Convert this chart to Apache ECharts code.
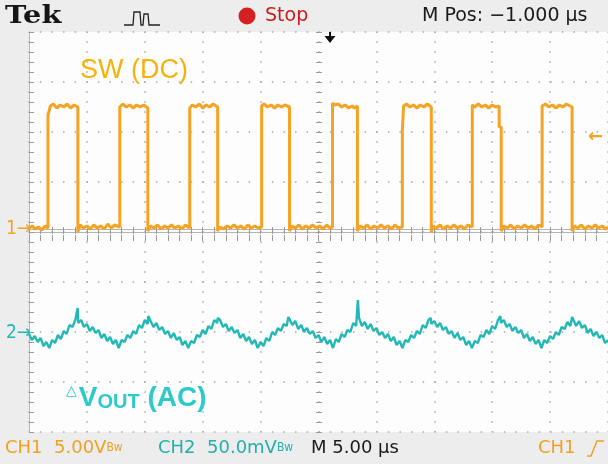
<!DOCTYPE html>
<html><head><meta charset="utf-8">
<script src="https://cdn.jsdelivr.net/npm/echarts@6/dist/echarts.min.js"></script>
<style>html,body{margin:0;padding:0;background:#ededed;}#c{width:608px;height:464px;}</style>
</head><body><div id="c"></div>
<script>
// Time axis: µs (5 µs/div, 10 div)
const timeMin = 0, timeMax = 50, timeDiv = 5;
// CH1 (SW, DC) volts: 5 V/div ; CH2 (ΔVout, AC) mV: 50 mV/div
const ch1Range = [-20.3, 19.7];
const ch2Range = [-99, 301];
const divRange = [-4, 4];

// CH1 switching node trace [µs, V]
const swTrace = [
[0,0.1],[0.3,0.3],[0.5,0.0],[0.8,0.2],[1.1,-0.1],[1.4,0.3],[1.64,0.1],
[1.64,11.4],[1.8,11.6],[1.85,12.3],[2.1,12.5],[2.4,12.1],[2.7,12.4],[3.0,12.2],[3.3,12.5],[3.6,12.1],[3.9,12.4],[4.22,12.2],[4.22,-0.3],
[4.4,0.4],[4.7,0.1],[5.0,0.3],[5.3,0.0],[5.6,0.4],[5.9,0.1],[6.2,0.3],[6.5,0.0],[6.8,0.5],[7.1,0.1],[7.4,0.4],[7.84,0.2],
[7.84,12.2],[8.1,12.5],[8.4,12.2],[8.7,12.4],[9.0,12.1],[9.3,12.4],[9.6,12.2],[9.9,12.4],[10.26,12.1],[10.26,-0.2],
[10.5,0.3],[10.8,0.1],[11.1,0.4],[11.4,0.0],[11.7,0.3],[12.0,0.1],[12.3,0.4],[12.6,0.1],[12.9,0.3],[13.2,0.0],[13.5,0.4],[13.88,0.1],
[13.88,12.1],[14.1,12.4],[14.4,12.2],[14.7,12.5],[15.0,12.1],[15.3,12.4],[15.6,12.2],[15.9,12.5],[16.29,12.2],[16.29,-0.2],
[16.5,0.2],[16.8,0.0],[17.1,0.3],[17.4,0.1],[17.7,0.4],[18.0,0.1],[18.3,0.3],[18.6,0.0],[18.9,0.4],[19.2,0.1],[19.5,0.3],[19.8,0.1],[20.09,0.2],
[20.09,12.3],[20.3,12.5],[20.6,12.2],[20.9,12.4],[21.2,12.1],[21.5,12.4],[21.8,12.2],[22.1,12.4],[22.5,12.2],[22.5,-0.2],
[22.7,0.3],[23.0,0.1],[23.3,0.4],[23.6,0.0],[23.9,0.3],[24.2,0.1],[24.5,0.4],[24.8,0.1],[25.1,0.3],[25.4,0.0],[25.7,0.4],[26.0,0.1],[26.21,0.2],
[26.21,12.6],[26.4,12.4],[26.7,12.5],[27.0,12.2],[27.3,12.4],[27.6,12.1],[27.9,12.3],[28.1,12.1],[28.36,12.3],[28.36,-0.2],
[28.6,0.3],[28.9,0.1],[29.2,0.4],[29.5,0.0],[29.8,0.3],[30.1,0.1],[30.4,0.4],[30.7,0.1],[31.0,0.3],[31.3,0.0],[31.6,0.4],[31.9,0.1],[32.24,0.2],
[32.24,9.9],[32.35,9.9],[32.35,12.3],[32.6,12.5],[32.9,12.2],[33.2,12.4],[33.5,12.1],[33.8,12.4],[34.1,12.2],[34.4,12.5],[34.74,12.2],[34.74,-0.3],
[34.9,0.3],[35.2,0.1],[35.5,0.4],[35.8,0.0],[36.1,0.3],[36.4,0.1],[36.7,0.4],[37.0,0.1],[37.3,0.3],[37.6,0.0],[37.9,0.4],[38.28,0.2],
[38.28,12.4],[38.5,12.2],[38.8,12.5],[39.1,12.2],[39.4,12.4],[39.7,12.1],[40.0,12.4],[40.3,12.2],[40.6,12.3],[40.6,10.2],[40.78,10.2],[40.78,-0.2],
[41.0,0.3],[41.3,0.1],[41.6,0.4],[41.9,0.0],[42.2,0.3],[42.5,0.1],[42.8,0.4],[43.1,0.1],[43.4,0.3],[43.7,0.0],[44.0,0.4],[44.31,0.2],
[44.31,12.3],[44.6,12.5],[44.9,12.2],[45.2,12.4],[45.5,12.1],[45.8,12.4],[46.1,12.2],[46.4,12.5],[46.9,12.2],[46.9,-0.2],
[47.1,0.3],[47.4,0.1],[47.7,0.4],[48.0,0.0],[48.3,0.3],[48.6,0.1],[48.9,0.4],[49.2,0.1],[49.5,0.3],[49.8,0.0],[50,0.2]
];

// CH2 ripple, mV, sampled every 0.25 µs from 0 µs (noisy trace)
const rippleStep = 0.25;
const rippleMv = [
-1,-7,-3,-9,-5,-13,-9,-15,-7,-10,-2,-6,2,-1,8,6,13,10,13,6,9,2,6,0,3,-5,-1,-8,-4,-11,-7,-15,
-7,-9,-2,-5,2,-1,8,5,13,9,12,6,10,3,6,-1,2,-5,0,-7,-4,-12,-8,-15,
-8,-10,-2,-4,3,-1,7,4,13,10,13,6,9,2,6,0,3,-5,-1,-8,-4,-11,-7,-15,
-9,-13,-5,-8,1,-2,5,2,9,7,15,8,12,4,8,1,5,-1,2,-5,-2,-9,-4,-11,-7,
-15,-6,-9,-1,-4,3,1,10,7,15,7,11,4,9,2,5,-2,1,-5,-1,-8,-4,-12,-8,
-15,-7,-9,-2,-5,2,-1,8,5,13,9,12,6,10,3,6,-1,2,-5,0,-7,-4,-12,-8,
-15,-8,-10,-2,-4,3,-1,7,4,13,10,13,6,9,2,6,0,3,-5,-1,-8,-4,-11,-7,
-15,-7,-10,-3,-6,1,-2,6,4,11,7,14,7,12,5,8,0,4,-3,1,-5,-2,-10,-7
];
// narrow switching spikes on the ripple [µs, mV]
const rippleSpikes = [[4.2,25],[10.3,17],[16.3,15],[22.4,16],[28.4,33],[34.7,15],[40.7,17],[46.9,16]];

const orange = '#f5a323';
const cyan = '#22b8b6';

const rippleData = rippleMv.map((v, i) => [i * rippleStep, v]).concat(rippleSpikes)
  .sort((a, b) => a[0] - b[0]);

const chart = echarts.init(document.getElementById('c'), null, {renderer: 'canvas'});
const grid = {left: 29, top: 32, width: 580, height: 400};
const tickStyle = {color: '#9a9a9a', width: 1};
const uiFont = '"DejaVu Sans", sans-serif';
const condensed = '"DejaVu Sans Condensed", "Liberation Sans Narrow", sans-serif';
chart.setOption({
  animation: false,
  backgroundColor: '#ededed',
  grid: Object.assign({show: true, backgroundColor: '#fdfdfd', borderWidth: 0}, grid),
  xAxis: [
    {type: 'value', min: timeMin, max: timeMax, interval: timeDiv, position: 'bottom',
     axisLine: {show: true, lineStyle: {color: '#b5b5b5'}},
     axisTick: {show: true, inside: true, length: 5, lineStyle: tickStyle},
     minorTick: {show: true, splitNumber: 5, length: 5, lineStyle: tickStyle},
     axisLabel: {show: false},
     splitLine: {show: true, lineStyle: {color: '#a8a8a8', width: 1.5, type: [1.5, 8.5], dashOffset: 0.75}}},
    {type: 'value', min: timeMin, max: timeMax, interval: timeDiv, position: 'top',
     axisLine: {show: true, lineStyle: {color: '#b5b5b5'}},
     axisTick: {show: true, inside: true, length: 5, lineStyle: tickStyle},
     minorTick: {show: true, splitNumber: 5, length: 5, lineStyle: tickStyle},
     axisLabel: {show: false}, splitLine: {show: false}},
    {type: 'value', min: timeMin, max: timeMax, interval: timeDiv, position: 'bottom', offset: -203,
     axisLine: {show: false}, axisTick: {show: true, inside: false, length: 6, lineStyle: tickStyle},
     minorTick: {show: true, splitNumber: 5, length: 6, lineStyle: tickStyle},
     axisLabel: {show: false}, splitLine: {show: false}}
  ],
  yAxis: [
    {type: 'value', min: divRange[0], max: divRange[1], interval: 1, position: 'left',
     axisLine: {show: true, lineStyle: {color: '#b5b5b5'}},
     axisTick: {show: true, inside: true, length: 5, lineStyle: tickStyle},
     minorTick: {show: true, splitNumber: 5, length: 5, lineStyle: tickStyle},
     axisLabel: {show: false},
     splitLine: {show: true, lineStyle: {color: '#a8a8a8', width: 1.5, type: [1.5, 10.1], dashOffset: 0.75}}},
    {type: 'value', min: ch1Range[0], max: ch1Range[1], show: false, position: 'right'},
    {type: 'value', min: ch2Range[0], max: ch2Range[1], show: false, position: 'right'},
    {type: 'value', min: divRange[0], max: divRange[1], interval: 1, position: 'left', offset: -293,
     axisLine: {show: false}, axisTick: {show: true, inside: false, length: 6, lineStyle: tickStyle},
     minorTick: {show: true, splitNumber: 5, length: 6, lineStyle: tickStyle},
     axisLabel: {show: false}, splitLine: {show: false}}
  ],
  series: [
    {name: 'SW (DC)', type: 'line', xAxisIndex: 0, yAxisIndex: 1, data: swTrace, showSymbol: false,
     lineStyle: {color: orange, width: 3}, z: 5},
    {name: 'ΔVOUT (AC)', type: 'line', xAxisIndex: 0, yAxisIndex: 2, data: rippleData, showSymbol: false,
     lineStyle: {color: cyan, width: 2.4, join: 'bevel'}, z: 5}
  ],
  graphic: [
    {type: 'text', x: 5, y: 16, scaleX: 1.15, style: {text: 'Tek', font: 'bold 25px "DejaVu Serif"', fill: '#151515', textVerticalAlign: 'middle'}},
    {type: 'polyline', shape: {points: [[124,25],[133,25],[134,12],[140,12],[141,25],[143,25],[144,14],[148,14],[149,25],[160,25]]},
     style: {stroke: '#222', lineWidth: 1.3, fill: null}},
    {type: 'circle', shape: {cx: 247, cy: 16, r: 8.5}, style: {fill: '#d42020'}},
    {type: 'text', x: 265, y: 16, style: {text: 'Stop', font: '19px ' + uiFont, fill: '#c81e1e', textVerticalAlign: 'middle'}},
    {type: 'text', x: 422, y: 16, style: {text: 'M Pos: \u22121.000 \u00b5s', font: '19px ' + uiFont, fill: '#1a1a1a', textVerticalAlign: 'middle'}},
    {type: 'polygon', shape: {points: [[329,32],[331,32],[331,36],[335.5,36],[330,43],[324.5,36],[329,36]]}, style: {fill: '#111'}, z: 20},
    {type: 'text', x: 80, y: 71, style: {text: 'SW (DC)', font: '27px "Liberation Sans", Arial, sans-serif', fill: '#f6b20c', textVerticalAlign: 'middle'}, z: 20},
    {type: 'text', x: 66, y: 398, style: {
      rich: {t: {font: '14px "DejaVu Sans"', fill: '#2ccaca', verticalAlign: 'top', padding: [0,2,10,0]},
             v: {font: 'bold 28px "Liberation Sans", Arial, sans-serif', fill: '#2ccaca'},
             s: {font: 'bold 20px "Liberation Sans", Arial, sans-serif', fill: '#2ccaca', padding: [8,0,0,0]}},
      text: '{t|\u25b3}{v|V}{s|OUT}{v| (AC)}', textVerticalAlign: 'middle'}, z: 20},
    {type: 'text', x: 6, y: 229, style: {text: '1\u2192', font: '19px ' + condensed, fill: orange, textVerticalAlign: 'middle'}, z: 20},
    {type: 'text', x: 6, y: 333, style: {text: '2\u2192', font: '19px ' + condensed, fill: cyan, textVerticalAlign: 'middle'}, z: 20},
    {type: 'text', x: 588, y: 137, style: {text: '\u2190', font: 'bold 18px "DejaVu Sans"', fill: orange, textVerticalAlign: 'middle'}, z: 20},
    {type: 'text', x: 5, y: 448, style: {
      rich: {a: {font: '18px ' + uiFont, fill: '#f0a025'},
             b: {font: '12px ' + condensed, fill: '#f0a025'}},
      text: '{a|CH1  5.00V}{b|Bw}', textVerticalAlign: 'middle'}},
    {type: 'text', x: 158, y: 448, style: {
      rich: {a: {font: '18px ' + uiFont, fill: '#20b0ad'},
             b: {font: '12px ' + condensed, fill: '#20b0ad'}},
      text: '{a|CH2  50.0mV}{b|Bw}', textVerticalAlign: 'middle'}},
    {type: 'text', x: 311, y: 448, style: {text: 'M 5.00 \u00b5s', font: '18px ' + uiFont, fill: '#1a1a1a', textVerticalAlign: 'middle'}},
    {type: 'text', x: 538, y: 448, style: {text: 'CH1', font: '18px ' + uiFont, fill: '#f0a025', textVerticalAlign: 'middle'}},
    {type: 'polyline', shape: {points: [[587,456],[591,456],[597,441],[604,441]]}, style: {stroke: '#f0a025', lineWidth: 1.5, fill: null}}
  ]
});
</script></body></html>
